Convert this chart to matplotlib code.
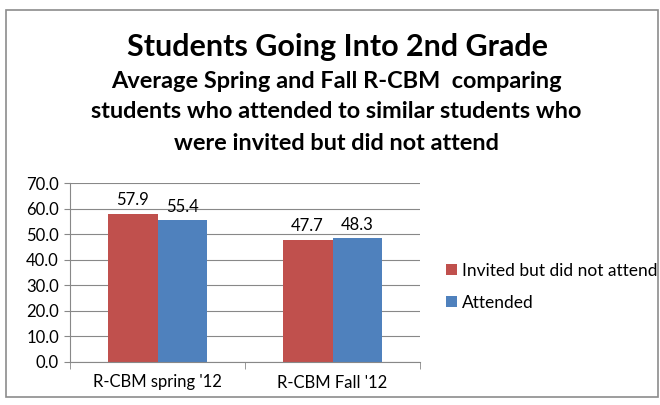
import numpy as np
import matplotlib.pyplot as plt
from matplotlib.patches import Rectangle

plt.rcParams['font.family'] = ['Lato', 'DejaVu Sans']

categories = ["R-CBM spring '12", "R-CBM Fall '12"]
series_names = ["Invited but did not attend", "Attended"]
invited = [57.9, 47.7]
attended = [55.4, 48.3]
colors = ['#C0504D', '#4F81BD']

fig = plt.figure(figsize=(6.6, 4.05), dpi=100)
fig.patches.append(Rectangle((6 / 660, 8 / 405), 652 / 660, 387 / 405,
                             transform=fig.transFigure, fill=False,
                             edgecolor='#8C8C8C', linewidth=1.2))

fig.text(0.512, 1 - 47 / 405, 'Students Going Into 2nd Grade', ha='center', va='center',
         fontsize=22, fontweight='bold')
sub = ['Average Spring and Fall R-CBM  comparing',
       'students who attended to similar students who',
       'were invited but did not attend']
for i, line in enumerate(sub):
    fig.text(0.51, 1 - (81 + 31 * i) / 405, line, ha='center', va='center',
             fontsize=16.9, fontweight='bold')

ax = fig.add_axes([70 / 660, 1 - 362 / 405, 350 / 660, 179 / 405])
x = np.arange(len(categories))
w = 0.285
b1 = ax.bar(x - w / 2, invited, w, color=colors[0], label=series_names[0])
b2 = ax.bar(x + w / 2, attended, w, color=colors[1], label=series_names[1])
for bars in (b1, b2):
    for r in bars:
        ax.annotate(f'{r.get_height():.1f}', (r.get_x() + r.get_width() / 2, r.get_height()),
                    xytext=(0, 4), textcoords='offset points', ha='center', va='bottom',
                    fontsize=12)

ax.set_xlim(-0.5, 1.5)
ax.set_ylim(0, 70)
ax.set_yticks(np.arange(0, 71, 10))
ax.set_yticklabels([f'{v:.1f}' for v in np.arange(0, 71, 10)], fontsize=12)
ax.set_xticks(x)
ax.set_xticklabels(categories, fontsize=12)
ax.tick_params(axis='x', length=0, pad=9)
ax.tick_params(axis='y', length=4, color='#888888', pad=4)
ax.set_xticks([-0.5, 0.5, 1.5], minor=True)
ax.tick_params(axis='x', which='minor', length=5, color='#888888')
ax.grid(axis='y', color='#888888', linewidth=0.8)
ax.set_axisbelow(True)
for s in ['top', 'right']:
    ax.spines[s].set_visible(False)
ax.spines['left'].set_color('#888888')
ax.spines['bottom'].set_color('#888888')

ax.legend(loc='center left', bbox_to_anchor=(1.03, 0.42), frameon=False, fontsize=12.5,
          handlelength=0.6, handleheight=0.6, handletextpad=0.3, labelspacing=0.95)

fig.savefig('out.png', dpi=100)
